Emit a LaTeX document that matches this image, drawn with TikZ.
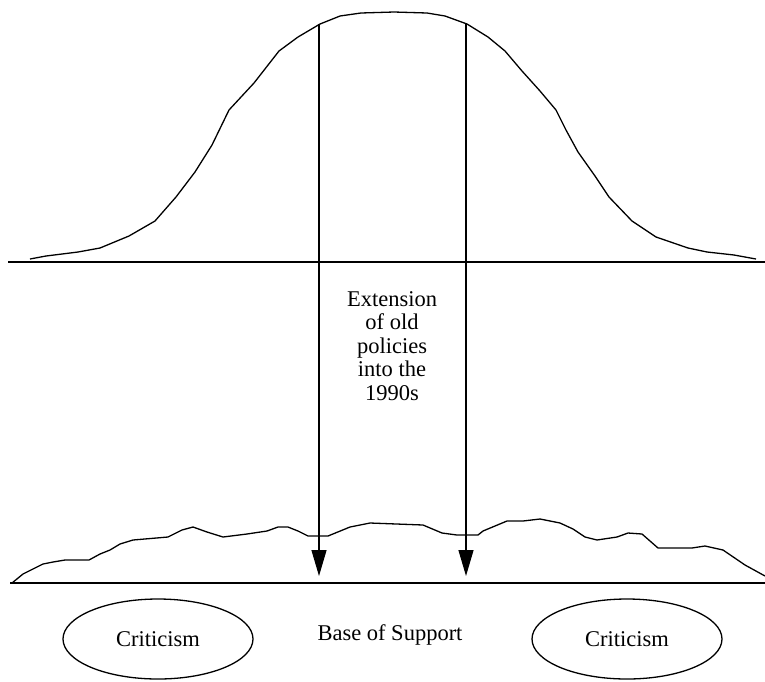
\documentclass[tikz,border=0pt]{standalone}
\usepackage{fontspec}
\setmainfont{Liberation Serif}
\usetikzlibrary{arrows.meta,shapes.geometric}

\begin{document}
\begin{tikzpicture}[x=1pt, y=-1pt,
  every node/.style={font=\fontsize{22.5}{23.5}\selectfont},
  curve/.style={line width=1.3pt, line join=round},
  baseline/.style={line width=1.6pt},
  drop/.style={line width=1.3pt, -{Triangle[length=26pt, width=15pt]}},
  critic/.style={draw, ellipse, line width=1.3pt, minimum width=190pt, minimum height=80pt, inner sep=0pt}]
  \useasboundingbox (0,0) rectangle (765,681);
  \draw[curve] plot coordinates {(30,259) (46,256) (78,252) (100,248) (129,236)
    (155,221) (176,197) (195,172) (212,145) (229,110) (254,83) (279,51)
    (298,37) (320,24) (340,16) (361,13) (394,12) (427,13) (445,16) (467,24)
    (488,37) (505,51) (522,71) (540,91) (556,110) (566,130) (578,152)
    (595,176) (609,197) (632,221) (656,237) (688,248) (707,252) (734,255) (756,259)};
  \draw[baseline] (8,262) -- (765,262);
  \draw[curve] plot coordinates {(12,583) (23,574) (43,564) (53,562) (65,560)
    (89,560) (100,554) (110,550) (120,544) (133,540) (168,537) (182,530)
    (193,527) (207,532) (223,537) (247,534) (267,531) (278,527) (288,527)
    (298,531) (308,536) (328,536) (350,527) (370,523) (423,525) (442,533)
    (457,535) (478,535) (483,531) (507,521) (523,521) (540,519) (560,523)
    (573,529) (585,537) (597,540) (617,537) (628,533) (642,534) (658,548)
    (692,548) (705,546) (723,550) (745,565) (765,576)};
  \draw[baseline] (10,583) -- (765,583);
  \coordinate (ltop) at (319,24);
  \coordinate (lend) at (319,576);
  \coordinate (rtop) at (466,24);
  \coordinate (rend) at (466,576);
  \draw[drop] (ltop) -- (lend);
  \draw[drop] (rtop) -- (rend);
  \node[align=center, inner sep=0pt] (ext) at (392,346) {Extension\\of old\\policies\\into the\\1990s};
  \node[anchor=base, inner sep=0pt] (base) at (390,640) {Base of Support};
  \node[critic] (critl) at (158,639) {Criticism};
  \node[critic] (critr) at (627,639) {Criticism};
\end{tikzpicture}
\end{document}
